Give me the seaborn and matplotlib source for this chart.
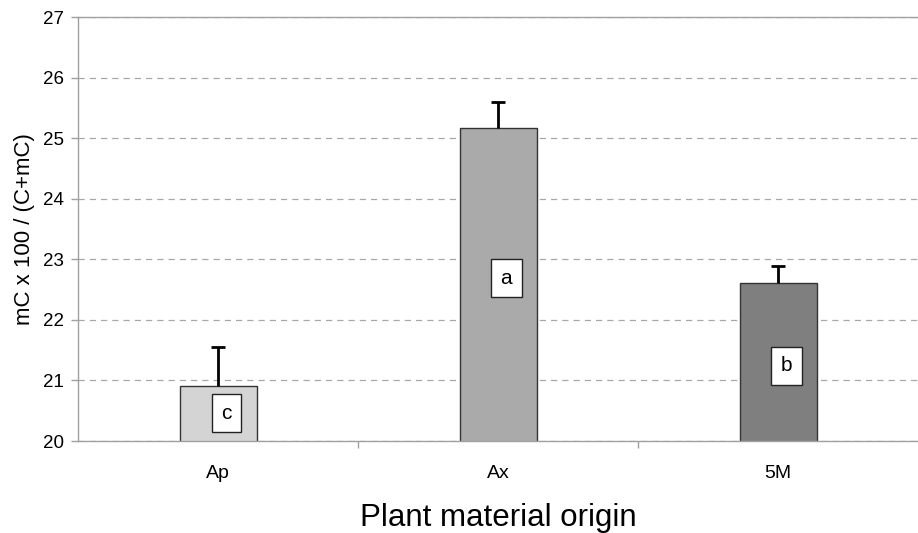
import matplotlib
matplotlib.use("Agg")
import matplotlib.pyplot as plt
import seaborn as sns
import pandas as pd

origins = ["Ap", "Ax", "5M"]
means = [20.9, 25.17, 22.61]
errors = [0.65, 0.43, 0.28]
letters = ["c", "a", "b"]
letter_y = [20.46, 22.69, 21.24]
bar_colors = ["#d4d4d4", "#aaaaaa", "#7f7f7f"]

sns.set_style("white")
plt.rcParams["font.family"] = ["Liberation Sans", "DejaVu Sans"]
plt.rcParams["text.color"] = "black"
plt.rcParams["axes.labelcolor"] = "black"

df = pd.DataFrame({"origin": origins, "value": means})

fig = plt.figure(figsize=(9.18, 5.33), dpi=100)
ax = fig.add_axes([0.085, 0.1726, 0.915, 0.7955])

sns.barplot(data=df, x="origin", y="value", hue="origin", palette=bar_colors,
            width=0.275, edgecolor="#333333", linewidth=1, legend=False, ax=ax)

# upper error bars only, with a cap on top
tops = [m + e for m, e in zip(means, errors)]
ax.vlines(range(len(origins)), means, tops, color="black", linewidth=2, zorder=4)
ax.scatter(range(len(origins)), tops, marker="_", s=90, color="black",
           linewidths=2, zorder=4)

# significance letters in white boxes
for i, (s, ly) in enumerate(zip(letters, letter_y)):
    ax.text(i + 0.03, ly, s, ha="center", va="center", fontsize=15,
            bbox=dict(boxstyle="square,pad=0.45", fc="white", ec="#222222", lw=1))

ax.set_ylim(20, 27)
ax.set_xlim(-0.5, 2.5)
ax.set_yticks(range(20, 28))
ax.yaxis.grid(True, linestyle=(0, (5, 4)), color="#a8a8a8", linewidth=0.9)
ax.set_axisbelow(True)

ax.set_xticks([0.5, 1.5], minor=True)
ax.tick_params(axis="x", which="major", bottom=False, labelsize=14, pad=14,
               labelcolor="black")
ax.tick_params(axis="x", which="minor", bottom=True, length=5, width=1,
               color="#a0a0a0", direction="out")
ax.tick_params(axis="y", left=True, length=5, width=1, color="#a0a0a0",
               direction="out", labelsize=13.5, pad=5, labelcolor="black")

for side in ["left", "bottom", "top"]:
    ax.spines[side].set_color("#a0a0a0")
    ax.spines[side].set_linewidth(1)
ax.spines["right"].set_visible(False)

ax.set_xlabel("Plant material origin", fontsize=22.5, labelpad=15)
ax.set_ylabel("mC x 100 / (C+mC)", fontsize=16, labelpad=6)

fig.savefig("out.png", dpi=100)
